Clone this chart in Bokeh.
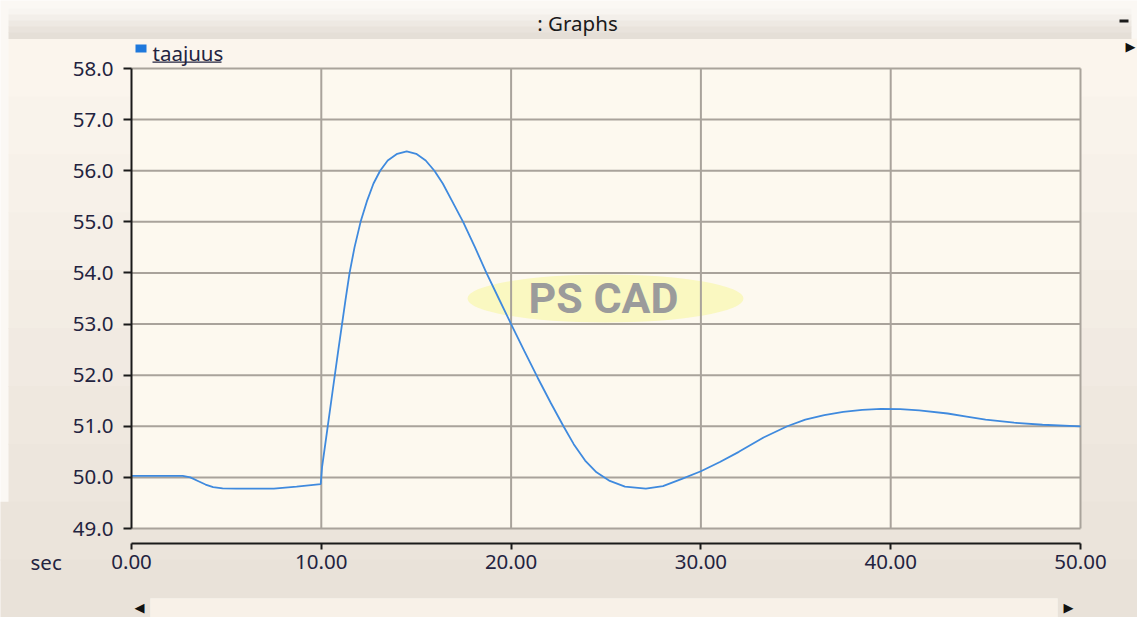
from bokeh.plotting import figure
from bokeh.models import Range1d, FixedTicker, NumeralTickFormatter, BoxAnnotation, Label
from bokeh.core.properties import value
from bokeh.embed import file_html
from bokeh.resources import INLINE

# ---------------- data ----------------
time_s = [0.0, 2.7, 3.1, 3.5, 3.9, 4.3, 4.8, 5.5, 7.5, 8.7, 9.97,
          10.04, 10.31, 10.6, 10.9, 11.27, 11.49, 11.75, 12.07, 12.4, 12.75, 13.1, 13.5, 14.0,
          14.5, 15.0, 15.5, 15.96, 16.4, 16.9, 17.47, 18.1, 18.7, 19.35, 20.0, 20.7, 21.4,
          22.1, 22.76, 23.3, 23.9, 24.5, 25.2, 26.0, 27.1, 28.0, 29.0, 30.0, 31.0, 32.0,
          33.3, 34.55, 35.5, 36.5, 37.5, 38.5, 39.5, 40.5, 41.5, 43.0, 44.0, 45.0, 46.5,
          48.0, 50.0]
taajuus = [50.03, 50.03, 50.0, 49.93, 49.86, 49.81, 49.785, 49.78, 49.78, 49.82, 49.87,
           50.2, 50.92, 51.7, 52.5, 53.46, 54.0, 54.5, 55.0, 55.4, 55.75, 56.0, 56.2, 56.33,
           56.38, 56.33, 56.2, 56.0, 55.75, 55.4, 55.0, 54.5, 54.0, 53.5, 53.0, 52.47, 51.95,
           51.45, 51.0, 50.65, 50.33, 50.1, 49.93, 49.82, 49.78, 49.83, 49.97, 50.12, 50.3, 50.5,
           50.78, 51.0, 51.13, 51.22, 51.28, 51.32, 51.34, 51.335, 51.31, 51.25, 51.19, 51.13, 51.07,
           51.03, 51.0]
x_ticks = [0, 10, 20, 30, 40, 50]
y_ticks = [49, 50, 51, 52, 53, 54, 55, 56, 57, 58]
series_name = "taajuus"
title_text = ": Graphs"
x_unit = "sec"
watermark = "PS CAD"

# ---------------- geometry (page pixels of the reference window) ----------------
W, H = 1137, 617
PLOT_L, PLOT_R, PLOT_T, PLOT_B = 131, 1080, 68, 528
XAXIS_PY = 543
X0, X1 = x_ticks[0], x_ticks[-1]
Y0, Y1 = y_ticks[0], y_ticks[-1]
PPX = (PLOT_R - PLOT_L) / (X1 - X0)
PPY = (PLOT_B - PLOT_T) / (Y1 - Y0)

def dx(px):  # page px -> data x
    return X0 + (px - PLOT_L) / PPX

def dy(py):  # page px -> data y
    return Y1 - (py - PLOT_T) / PPY

TXT = "#23233f"
FONT = "Noto Sans"
FS = "20.5px"

p = figure(width=W, height=H, output_backend="svg", toolbar_location=None,
           x_range=Range1d(dx(0), dx(W)), y_range=Range1d(dy(H), dy(0)),
           min_border=0, min_border_left=0, min_border_right=0,
           min_border_top=0, min_border_bottom=0)
p.border_fill_color = "#fbf8f4"
p.background_fill_color = "#fbf8f4"
p.outline_line_alpha = 0
p.grid.visible = False

def box(l, r, t, b, color, level="underlay", line=None):
    kw = dict(line_alpha=0) if line is None else dict(line_color=line, line_width=1)
    p.add_layout(BoxAnnotation(left=dx(l), right=dx(r), top=dy(t), bottom=dy(b),
                               fill_color=color, fill_alpha=1, level=level, **kw))

# window background (vertical gradient)
bands = ["#fbf5ed", "#f9f3eb", "#f7f1e9", "#f5efe7", "#f3ede4", "#f1eae2",
         "#efe8df", "#ede6dd", "#ebe4db", "#e9e2d9"]
top_py = 38
step = (H - top_py) / len(bands)
for i, c in enumerate(bands):
    box(8 if i < len(bands) - 2 else -5, W + 5, top_py + i * step, top_py + (i + 1) * step + 1, c)
# title bar
tb = ["#f8f5f1", "#f3efea", "#eee9e3", "#e9e3dc", "#e5dfd7"]
for i, c in enumerate(tb):
    box(8, 1131, 8 + i * 6, 8 + (i + 1) * 6 + 0.5, c)
box(1119, 1128, 19, 22, "#1a1a1a", level="annotation")
# plot area
box(PLOT_L, PLOT_R, PLOT_T, PLOT_B, "#fdf9ef")
# scrollbar track
box(150, 1057, 598, H + 5, "#f8f1e8", line="#fefcf8")

# watermark
p.ellipse(x=[dx(605)], y=[dy(298)], width=[276], height=[48], width_units="screen",
          height_units="screen", fill_color="#f7f78a", fill_alpha=0.45, line_alpha=0)
p.text(x=[dx(603)], y=[dy(297)], text=[watermark], text_font=value("Roboto"),
       text_font_style="bold", text_font_size="43px", text_color="#9b9b9b",
       text_align="center", text_baseline="middle")

# grid
GRID = "#a9a39b"
p.segment(x0=x_ticks[1:], y0=[Y0] * (len(x_ticks) - 1), x1=x_ticks[1:], y1=[Y1] * (len(x_ticks) - 1),
          line_color=GRID, line_width=2)
p.segment(x0=[X0] * len(y_ticks), y0=y_ticks, x1=[X1] * len(y_ticks), y1=y_ticks,
          line_color=GRID, line_width=2)

# data line
p.line(time_s, taajuus, line_color="#3f8ade", line_width=1.8)

# axes (fixed inside the canvas-wide frame)
ya = p.yaxis[0]
ya.fixed_location = X0
ya.bounds = (Y0, Y1)
ya.ticker = FixedTicker(ticks=y_ticks)
ya.formatter = NumeralTickFormatter(format="0.0")
ya.axis_line_color = "#1a1a1a"
ya.axis_line_width = 2
ya.major_tick_in = 0
ya.major_tick_out = 8
ya.major_tick_line_color = "#1a1a1a"
ya.major_tick_line_width = 2
ya.minor_tick_line_alpha = 0
ya.major_label_standoff = 10
ya.major_label_text_font = FONT
ya.major_label_text_font_size = FS
ya.major_label_text_color = TXT

xa = p.xaxis[0]
xa.fixed_location = dy(XAXIS_PY)
xa.bounds = (X0, X1)
xa.ticker = FixedTicker(ticks=x_ticks)
xa.formatter = NumeralTickFormatter(format="0.00")
xa.axis_line_color = "#1a1a1a"
xa.axis_line_width = 2
xa.major_tick_in = 0
xa.major_tick_out = 6
xa.major_tick_line_color = "#1a1a1a"
xa.major_tick_line_width = 2
xa.minor_tick_line_alpha = 0
xa.major_label_standoff = 5
xa.major_label_text_font = FONT
xa.major_label_text_font_size = FS
xa.major_label_text_color = TXT

# texts
def label(px, py, text, size=FS, color=TXT, align="left", font=FONT, style="normal"):
    p.add_layout(Label(x=dx(px), y=dy(py), text=text, text_font=font, text_font_size=size,
                       text_color=color, text_baseline="middle", text_align=align,
                       text_font_style=style))

label(30, 561, x_unit)
label(577, 22, title_text, color="#1a1a1a", align="center")
# legend
box(135, 146, 44, 52, "#1e78dc", level="annotation")
label(152, 52, series_name)
box(152, 221, 61, 62.3, TXT, level="annotation")
# scroll arrows
for px, py, t in [(1130, 46, "▶"), (139, 607, "◀"), (1068, 607, "▶")]:
    label(px, py, t, size="13px", color="#111111", align="center", font="DejaVu Sans")

open("out.html", "w").write(file_html(p, INLINE))
